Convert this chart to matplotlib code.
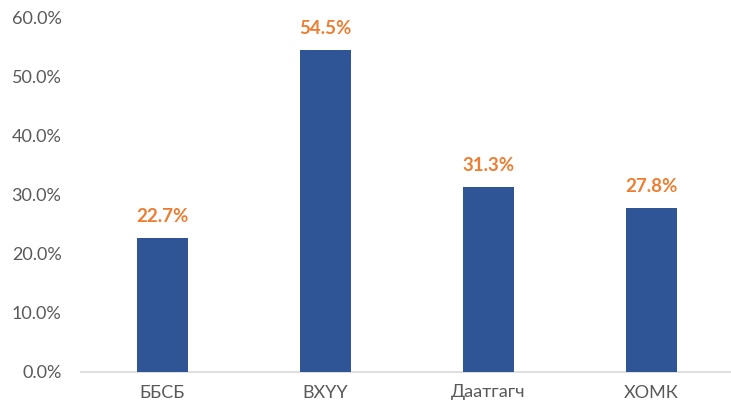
import matplotlib
matplotlib.use("Agg")
import matplotlib.pyplot as plt
from matplotlib.ticker import FuncFormatter

categories = ["ББСБ", "ВХҮҮ", "Даатгагч", "ХОМК"]
values = [22.7, 54.5, 31.3, 27.8]
yticks = [0, 10, 20, 30, 40, 50, 60]

plt.rcParams['font.family'] = ['Lato', 'DejaVu Sans']

fig = plt.figure(figsize=(7.31, 4.05), dpi=100)
ax = fig.add_axes([81/731, 33/405, 652/731, 355/405])

x = range(len(categories))
ax.bar(x, values, width=0.31, color="#2F5597", zorder=3)
for xi, v in zip(x, values):
    ax.text(xi, v + 2.1, f"{v:.1f}%", ha="center", va="bottom",
            color="#ED7D31", fontsize=13.5, fontweight="bold")

ax.set_xlim(-0.5, 3.5)
ax.set_ylim(0, 60)
ax.set_yticks(yticks)
ax.yaxis.set_major_formatter(FuncFormatter(lambda v, p: f"{v:.1f}%"))
ax.set_xticks(list(x))
ax.set_xticklabels(categories)

for s in ["top", "right", "left"]:
    ax.spines[s].set_visible(False)
ax.spines["bottom"].set_color("#D9D9D9")
ax.spines["bottom"].set_linewidth(1.2)
ax.tick_params(axis="both", length=0, labelsize=13, colors="#595959")
ax.tick_params(axis="y", pad=14)
ax.tick_params(axis="x", pad=9)

fig.savefig("out.png", dpi=100)
